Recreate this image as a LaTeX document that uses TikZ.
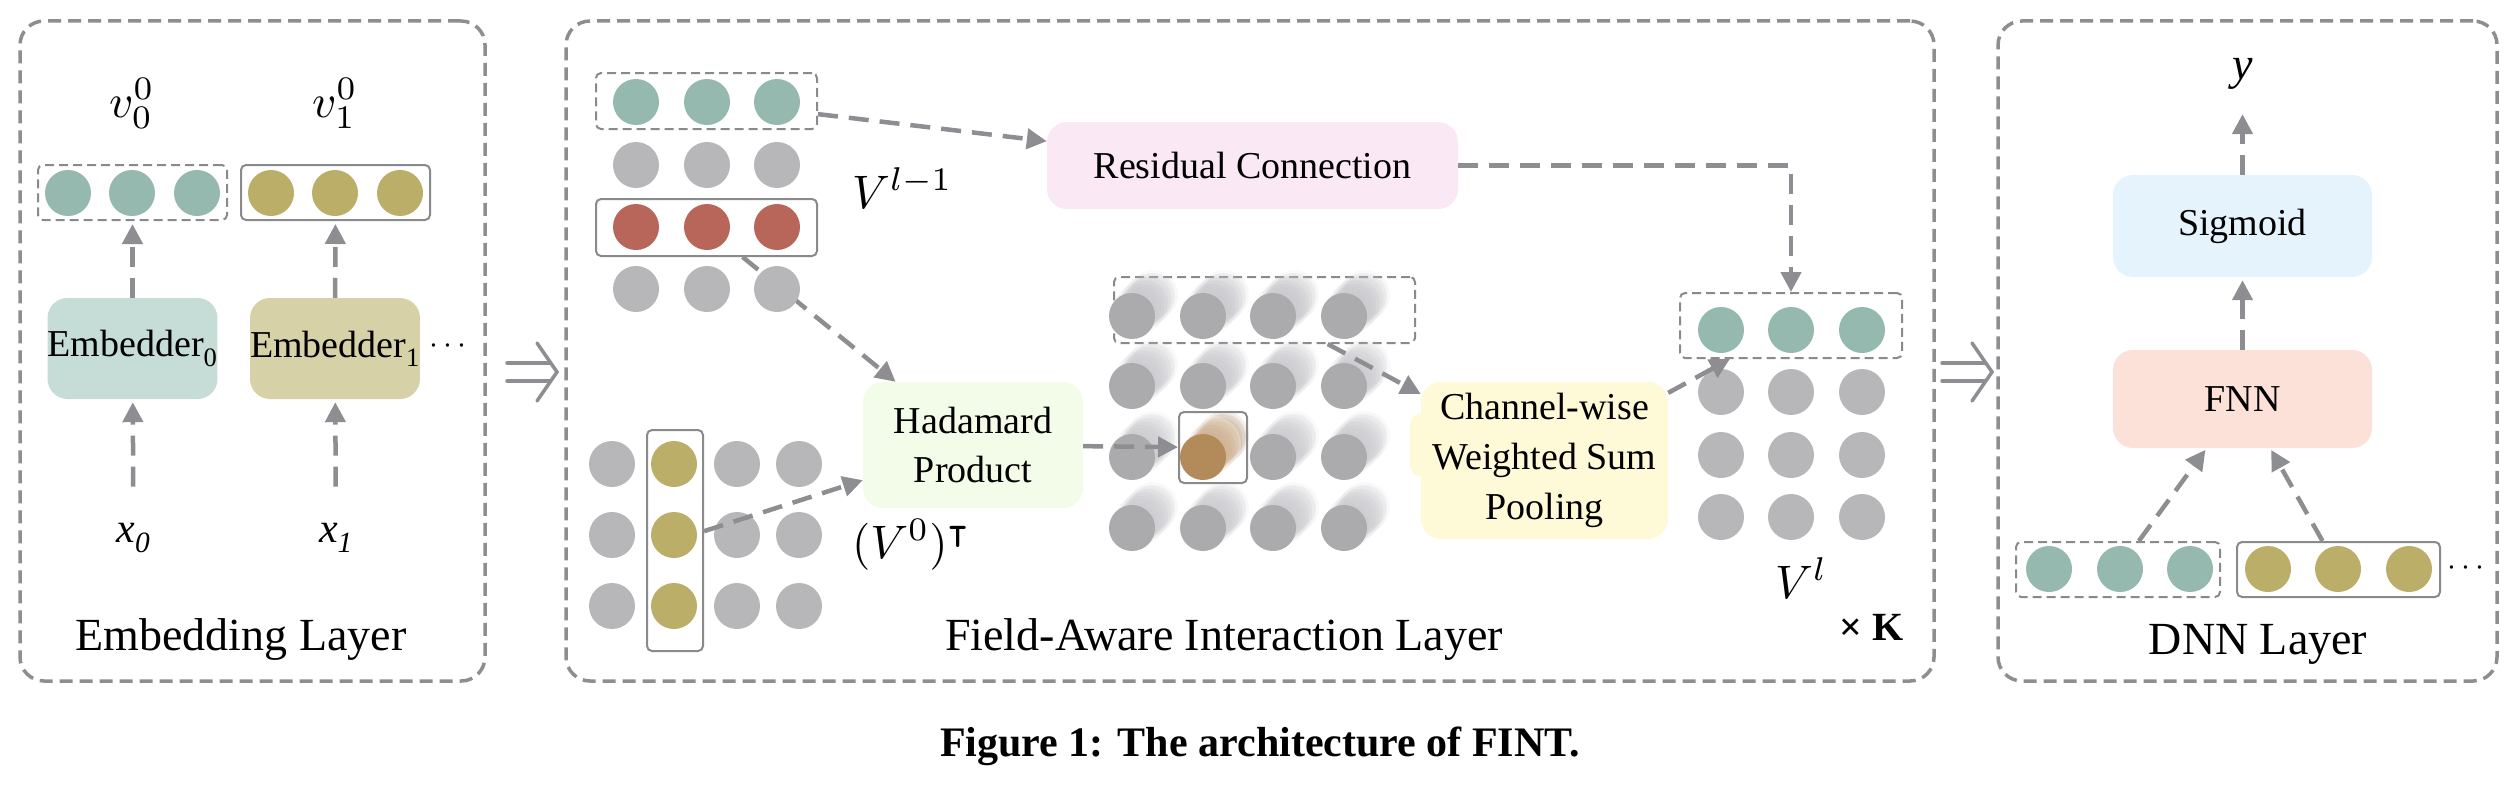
\documentclass[tikz,border=0pt]{standalone}
\usepackage{graphicx}
\usepackage{amssymb}
\usepackage{fontspec}
\setmainfont{Liberation Serif}
\usetikzlibrary{arrows.meta}
\definecolor{lgray}{HTML}{8E8E92}
\definecolor{bgray}{HTML}{8A8A8C}
\definecolor{cteal}{HTML}{95B8AF}
\definecolor{colive}{HTML}{BAAE69}
\definecolor{cred}{HTML}{B9665A}
\definecolor{cgray}{HTML}{B7B6B9}
\definecolor{cdark}{HTML}{ABABAD}
\definecolor{corange}{HTML}{B38B5A}
\definecolor{cshadow}{HTML}{C2C2C7}
\definecolor{corsh}{HTML}{C9A985}
\definecolor{fembA}{HTML}{C5DCD7}
\definecolor{fembB}{HTML}{D7D1A8}
\definecolor{fres}{HTML}{FAE8F4}
\definecolor{fhad}{HTML}{F3FCE8}
\definecolor{fchan}{HTML}{FEF9D6}
\definecolor{fsig}{HTML}{E5F4FC}
\definecolor{ffnn}{HTML}{FBE1D8}
\newcommand{\mybigmath}[1]{\scalebox{4.7}{$#1$}}
\begin{document}
\begin{tikzpicture}[x=1pt,y=-1pt,
  panel/.style={draw=lgray, line width=3.5pt, dash pattern=on 13pt off 7pt, rounded corners=24pt, inner sep=0pt},
  pbox/.style={rounded corners=20pt, inner sep=0pt, align=center, font=\fontsize{38}{49}\selectfont},
  vecbox/.style={draw=bgray, line width=2pt, rounded corners=5pt, fill=white, inner sep=0pt},
  dvec/.style={vecbox, dash pattern=on 9pt off 5pt},
  arr/.style={draw=lgray, line width=4.5pt, dash pattern=on 20pt off 11pt, -{Triangle[width=20pt,length=20pt]}},
  lab/.style={inner sep=0pt, font=\fontsize{46}{50}\selectfont},
  mlab/.style={inner sep=0pt},
  imp/.style={draw=lgray, line width=3.5pt, line cap=round}]
\useasboundingbox (0,0) rectangle (2518,808);

% panels
\node[panel, minimum width=465pt, minimum height=660pt] (p1) at (252.5,351) {};
\node[panel, minimum width=1368pt, minimum height=660pt] (p2) at (1250,351) {};
\node[panel, minimum width=499pt, minimum height=660pt] (p3) at (2247.5,351) {};

% implication arrows between panels
\coordinate (i1) at (557,372);
\coordinate (i2) at (1992,372);
\foreach \c in {i1,i2} {
  \draw[imp] (\c) ++(-50,-9) -- ++(43,0);
  \draw[imp] (\c) ++(-50,9) -- ++(43,0);
  \draw[imp] (\c) ++(-20,-29) -- (\c) -- ++(-20,29);
}

% ---------------- Panel 1: Embedding layer
\node[dvec, minimum width=189pt, minimum height=55pt] (tb1) at (132.5,192.5) {};
\node[vecbox, minimum width=189pt, minimum height=55pt] (ob1) at (335.5,192.5) {};
\foreach \x in {68,132,197} \fill[cteal] (\x,193) circle (23pt);
\foreach \x in {271,335,400} \fill[colive] (\x,193) circle (23pt);
\node[pbox, fill=fembA, minimum width=169pt, minimum height=101pt] (emb0) at (132.5,348.5) {Embedder\textsubscript{0}};
\node[pbox, fill=fembB, minimum width=168pt, minimum height=101pt] (emb1) at (335,348.5) {Embedder\textsubscript{1}};
\node[inner sep=0pt] (dots1) at (448,346) {\scalebox{3.2}{$\cdots$}};
\node[mlab, anchor=base] (v00) at (132,117) {\mybigmath{v_0^0}};
\node[mlab, anchor=base] (v10) at (335,117) {\mybigmath{v_1^0}};
\node[lab, anchor=base, font=\fontsize{42}{46}\selectfont] (x0) at (133.5,542) {\itshape x\textsubscript{0}};
\node[lab, anchor=base, font=\fontsize{42}{46}\selectfont] (x1) at (336,542) {\itshape x\textsubscript{1}};
\node[lab, anchor=base] (el) at (241,650) {Embedding Layer};
\draw[arr, shorten >=3pt] (emb0) -- (tb1);
\draw[arr, shorten >=3pt] (emb1) -- (ob1);
\draw[arr, shorten <=36pt, shorten >=3pt] (x0) -- (emb0);
\draw[arr, shorten <=36pt, shorten >=3pt] (x1) -- (emb1);

% ---------------- Panel 2: Field-aware interaction layer
\node[dvec, minimum width=221pt, minimum height=56pt] (tb2) at (706.5,101) {};
\node[vecbox, minimum width=221pt, minimum height=57pt] (rb) at (706.5,227.5) {};
\node[vecbox, minimum width=56pt, minimum height=221pt] (oc) at (675,540.5) {};
\node[pbox, fill=fres, minimum width=411pt, minimum height=87pt] (res) at (1252.5,165.5) {Residual Connection};
\node[pbox, fill=fhad, minimum width=220pt, minimum height=126pt] (had) at (973,445) {Hadamard\\Product};
\node[dvec, minimum width=301pt, minimum height=66pt] (cb) at (1264.5,310) {};
\node[pbox, fill=fchan, minimum width=40pt, minimum height=64pt, rounded corners=12pt] (chanbump) at (1430,445) {};
\node[pbox, fill=fchan, minimum width=247pt, minimum height=157pt, font=\fontsize{38}{50}\selectfont] (chan) at (1544.5,460.5) {Channel-wise\\Weighted Sum\\Pooling};
\node[dvec, minimum width=222pt, minimum height=65pt] (vlb) at (1791,325.5) {};

\draw[arr] (rb) -- (had);

\foreach \x in {636,707,777} {
  \fill[cteal] (\x,102) circle (23pt);
  \fill[cgray] (\x,165) circle (23pt);
  \fill[cred] (\x,227) circle (23pt);
  \fill[cgray] (\x,289) circle (23pt);
}
\foreach \y in {464,535,606} {
  \foreach \x in {612,737,799} \fill[cgray] (\x,\y) circle (23pt);
  \fill[colive] (674,\y) circle (23pt);
}
% cube of interactions (blurred depth shadows behind the front circles)
\foreach \cx in {1132,1203,1273,1344} {
  \foreach \cy in {316,386,457,528} {
    \foreach \k in {2,...,6} \fill[cshadow, opacity=0.10] (\cx+3.5*\k, \cy-3.5*\k) circle (25pt);
    \foreach \k in {1,...,6} \fill[cshadow, opacity=0.16] (\cx+3.5*\k, \cy-3.5*\k) circle (22pt);
    \fill[cdark] (\cx,\cy) circle (23pt);
  }
}
\fill[white] (1203,457) circle (25pt);
\fill[white] (1213,444) circle (28pt);
\foreach \k in {2,...,6} \fill[corsh, opacity=0.10] (1203+3.5*\k, 457-3.5*\k) circle (25pt);
\foreach \k in {1,...,6} \fill[corsh, opacity=0.18] (1203+3.5*\k, 457-3.5*\k) circle (22pt);
\fill[corange] (1203,457) circle (23pt);
\node[vecbox, fill=none, minimum width=68pt, minimum height=71pt] (cell) at (1213,447.5) {};

\foreach \x in {1721,1791,1862} {
  \fill[cteal] (\x,330) circle (23pt);
  \foreach \y in {392,455,517} \fill[cgray] (\x,\y) circle (23pt);
}

\node[mlab, anchor=base west] (vl1) at (852,208) {\mybigmath{V^{l-1}}};
\node[mlab, anchor=base west] (v0t) at (852,558) {\mybigmath{(V^0)^{\intercal}}};
\node[mlab, anchor=base west] (vl) at (1775,598) {\mybigmath{V^{l}}};
\node[lab, anchor=base west, font=\bfseries\fontsize{40}{44}\selectfont] (xk) at (1839,640) {× K};
\node[lab, anchor=base] (fal) at (1224,650) {Field-Aware Interaction Layer};

\draw[arr] (tb2) -- (res);
\draw[arr] (oc) -- (had);
\draw[arr] (had) -- (cell);
\draw[arr] (cb) -- (chan);
\draw[arr] (chan) -- (vlb);
\draw[arr] (res.east) -| (vlb.north);

% ---------------- Panel 3: DNN layer
\node[pbox, fill=fsig, minimum width=259pt, minimum height=102pt] (sig) at (2242.5,226) {Sigmoid};
\node[pbox, fill=ffnn, minimum width=259pt, minimum height=98pt] (fnn) at (2242.5,399) {FNN};
\node[dvec, minimum width=204pt, minimum height=55pt] (tb3) at (2118,569.5) {};
\node[vecbox, minimum width=203pt, minimum height=55pt] (ob3) at (2338.5,569.5) {};
\foreach \x in {2049,2120,2190} \fill[cteal] (\x,569) circle (23pt);
\foreach \x in {2268,2338,2409} \fill[colive] (\x,569) circle (23pt);
\node[inner sep=0pt] (dots3) at (2466,568) {\scalebox{3.2}{$\cdots$}};
\node[lab, anchor=base] (ylab) at (2242.5,80) {\itshape y};
\node[lab, anchor=base] (dnn) at (2258,654) {DNN Layer};
\draw[arr, shorten >=24pt] (sig) -- (ylab);
\draw[arr, shorten >=3pt] (fnn) -- (sig);
\draw[arr, shorten >=2pt] (tb3) -- (fnn);
\draw[arr, shorten >=2pt] (ob3) -- (fnn);

% caption
\node[inner sep=0pt, anchor=base, font=\bfseries\fontsize{42}{50}\selectfont] (cap) at (1260,756) {Figure 1: The architecture of FINT.};
\end{tikzpicture}
\end{document}
